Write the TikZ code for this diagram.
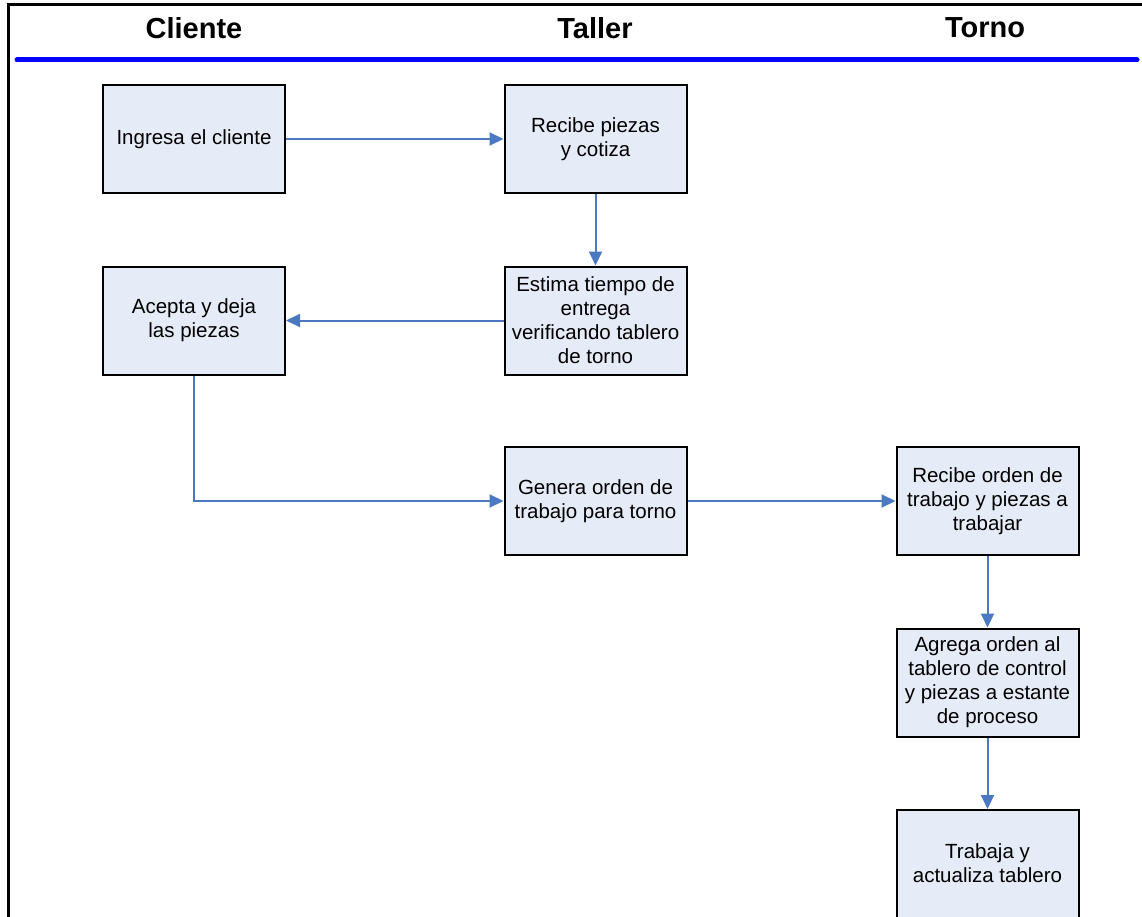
\documentclass[tikz,border=0pt]{standalone}
\usepackage{fontspec}
\setmainfont{Liberation Sans}
\usetikzlibrary{arrows.meta}
\definecolor{boxfill}{RGB}{230,236,247}
\definecolor{arrowblue}{RGB}{74,120,193}
\definecolor{headblue}{RGB}{0,0,255}
\begin{document}
\begin{tikzpicture}[x=1pt,y=-1pt,
  boxfont/.style={font=\fontsize{20.5}{24}\selectfont},
  procbox/.style={draw=black, line width=2pt, fill=boxfill, minimum width=182pt, minimum height=108pt, inner sep=0pt, align=center, boxfont},
  flow/.style={draw=arrowblue, line width=2pt, -{Triangle[length=14pt,width=13pt]}},
  header/.style={font=\fontsize{29}{34}\selectfont\bfseries}]
\useasboundingbox (0,0) rectangle (1142,917);
% frame
\draw[line width=3pt] (8,930) -- (8,5) -- (1150,5);
\draw[headblue, line width=5pt, line cap=round] (17,60) -- (1137,60);
% headers
\node[header] (hcliente) at (194,28) {Cliente};
\node[header] (htaller) at (595,28) {Taller};
\node[header] (htorno) at (985,28) {Torno};
% boxes
\node[procbox] (ingresa) at (194,139) {Ingresa el cliente};
\node[procbox] (recibe) at (595.5,139) {Recibe piezas\\y cotiza};
\node[procbox] (acepta) at (194,320.5) {Acepta y deja\\las piezas};
\node[procbox] (estima) at (595.5,320.5) {Estima tiempo de\\entrega\\verificando tablero\\de torno};
\node[procbox] (genera) at (595.5,501) {Genera orden de\\trabajo para torno};
\node[procbox] (recibeorden) at (987.5,501) {Recibe orden de\\trabajo y piezas a\\trabajar};
\node[procbox] (agrega) at (987.5,682.5) {Agrega orden al\\tablero de control\\y piezas a estante\\de proceso};
\node[procbox, anchor=north, minimum height=130pt] (trabaja) at (987.5,809) {};
\node[align=center, boxfont] (trabajatext) at (987.5,863) {Trabaja y\\actualiza tablero};
% connectors
\draw[flow] (ingresa) -- (recibe);
\draw[flow] (recibe) -- (estima);
\draw[flow] (estima) -- (acepta);
\draw[flow] (acepta.south) |- (genera.west);
\draw[flow] (genera) -- (recibeorden);
\draw[flow] (recibeorden) -- (agrega);
\draw[flow] (agrega) -- (trabaja);
\end{tikzpicture}
\end{document}
